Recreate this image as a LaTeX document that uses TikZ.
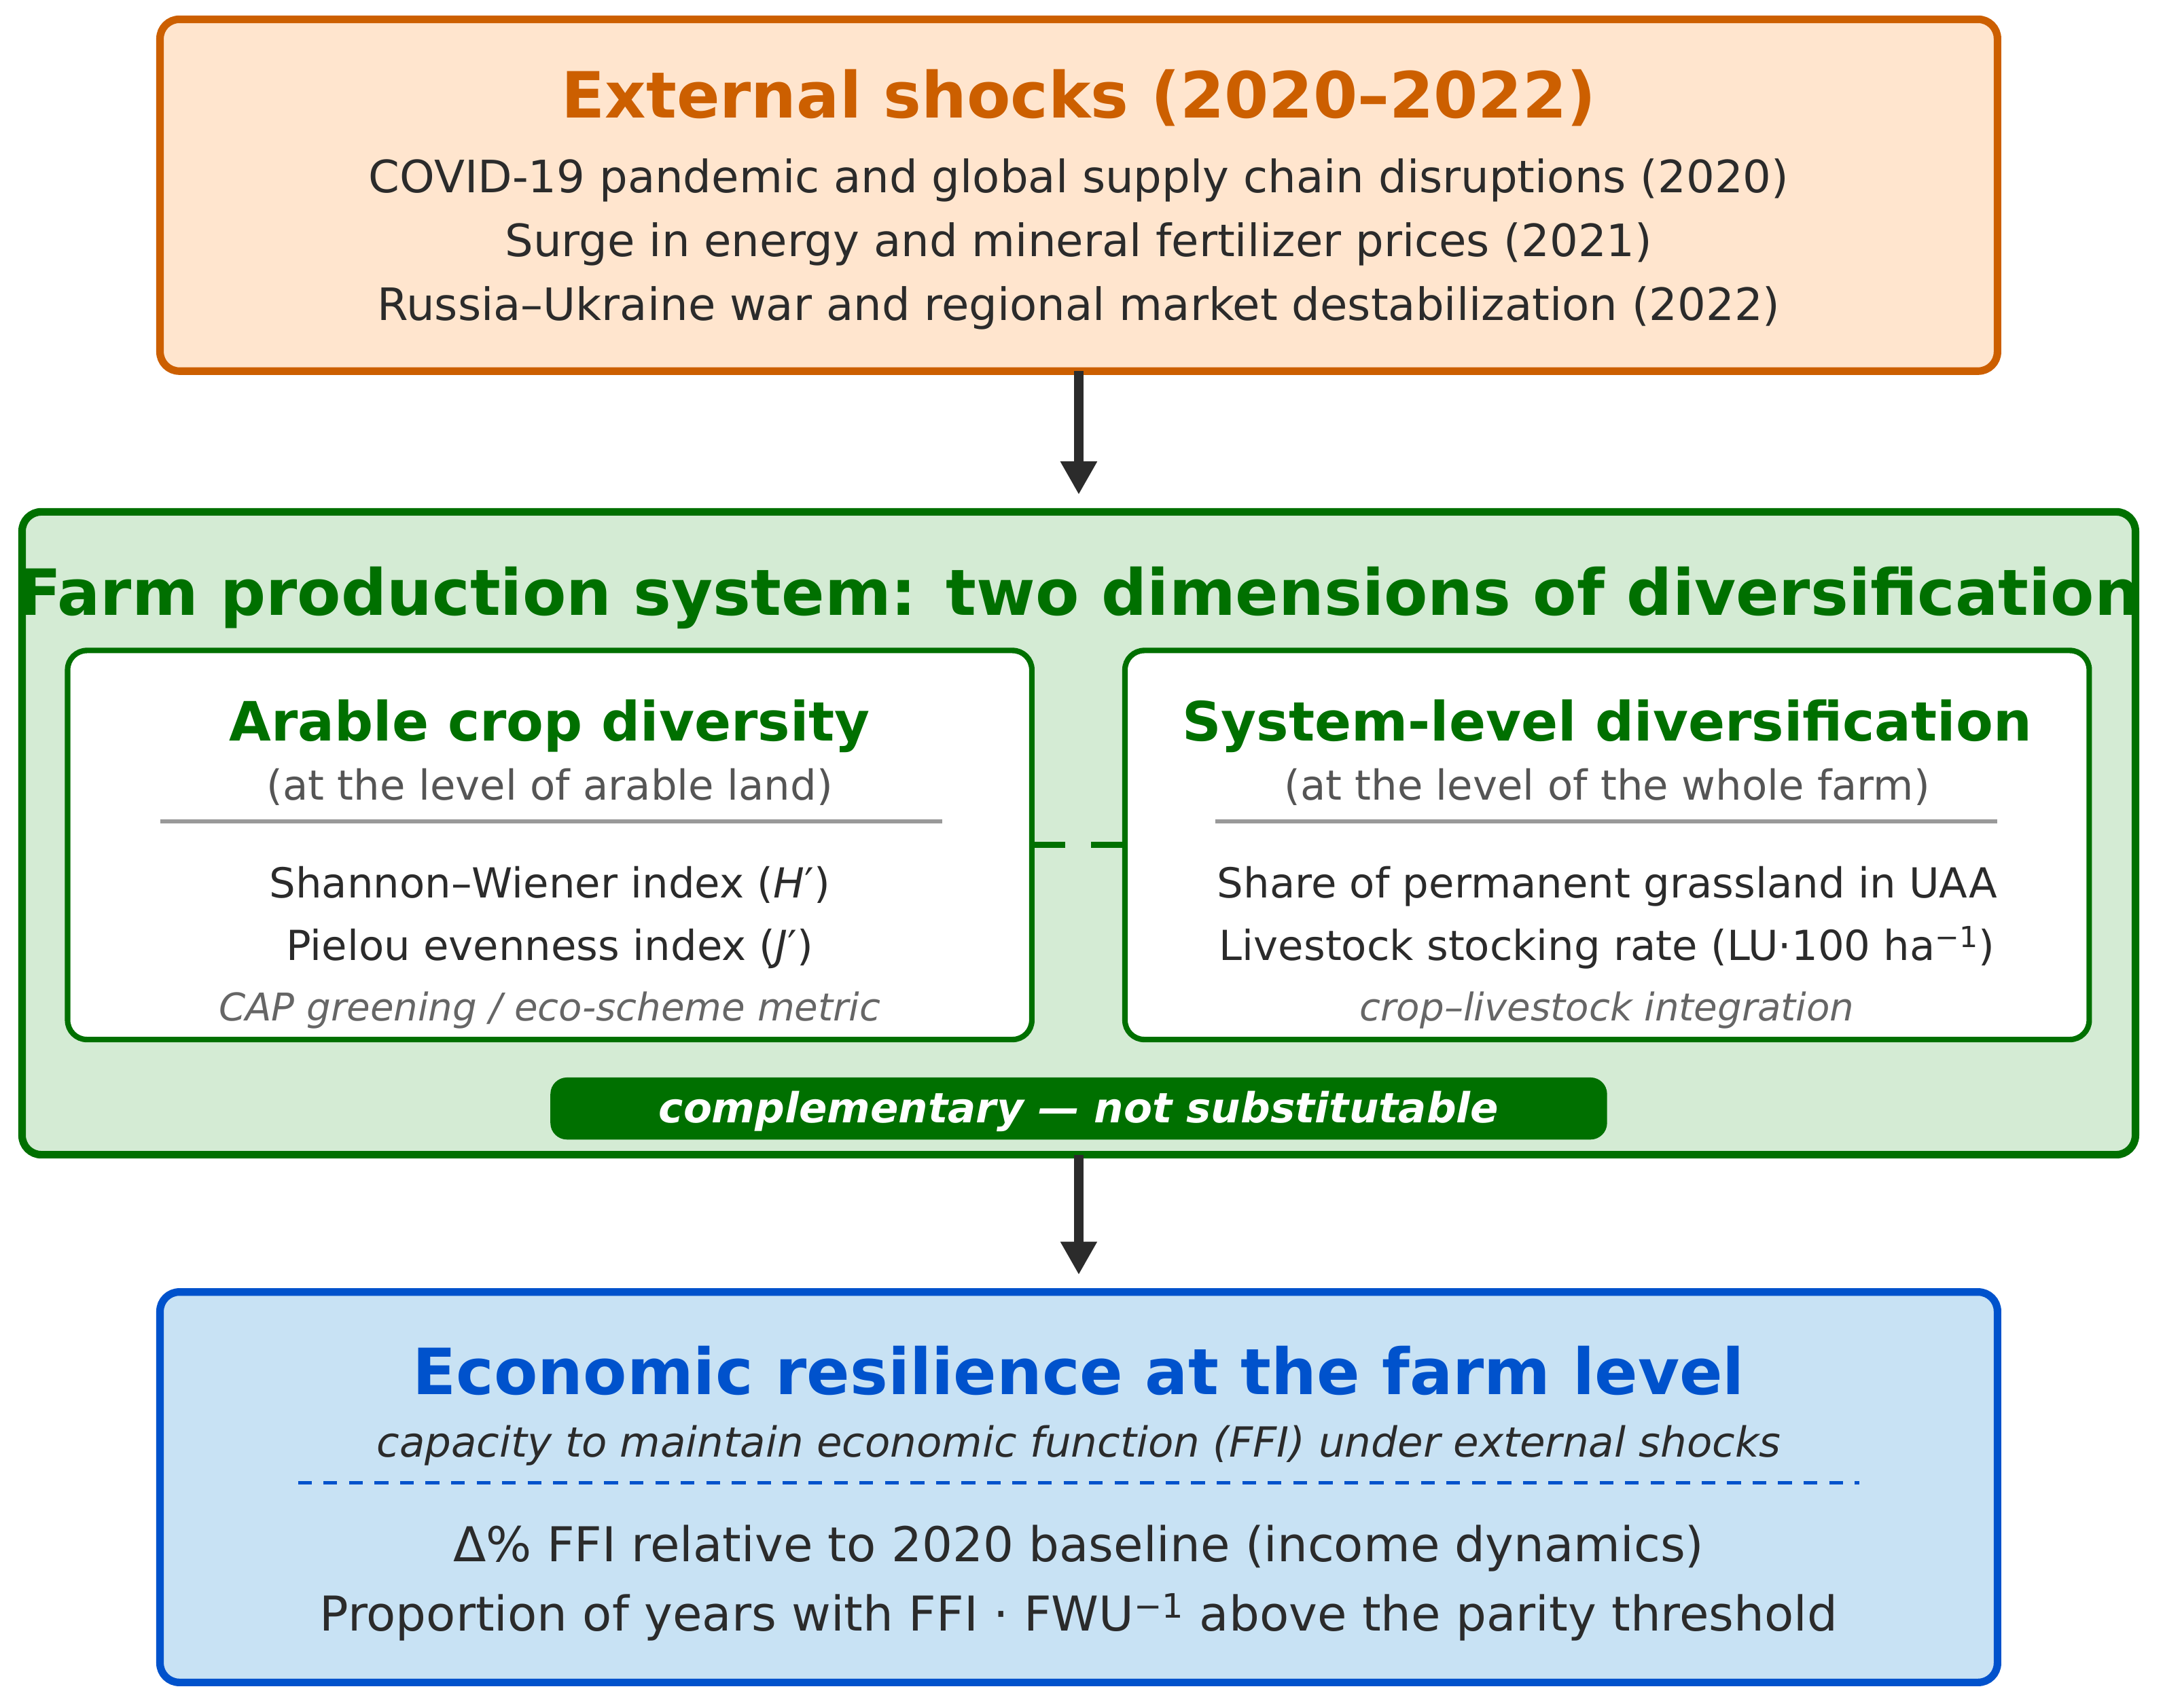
\documentclass[tikz,border=0pt]{standalone}
\usepackage{fontspec}
\setmainfont{DejaVu Sans}
\usetikzlibrary{arrows.meta}
\definecolor{shockline}{HTML}{CC5F00}
\definecolor{shockfill}{HTML}{FFE5CE}
\definecolor{farmline}{HTML}{007000}
\definecolor{farmfill}{HTML}{D4EBD4}
\definecolor{resline}{HTML}{0052CC}
\definecolor{resfill}{HTML}{C8E2F4}
\definecolor{ink}{HTML}{2B2B2B}
\definecolor{subgray}{HTML}{555555}
\definecolor{notegray}{HTML}{666666}
\definecolor{rulegray}{HTML}{999999}
\newcommand{\fs}[1]{\fontsize{#1}{1.2\dimexpr#1\relax}\selectfont}
\begin{document}
\begin{tikzpicture}[x=1pt,y=1pt,
   every node/.style={inner sep=0pt,outer sep=0pt,anchor=base,text=ink},
   bigbox/.style={anchor=center,rounded corners=14pt,line width=5.5pt},
   smallbox/.style={anchor=center,rounded corners=14pt,line width=4pt,draw=farmline,fill=white,
     minimum width=699pt,minimum height=282pt},
   bigtitle/.style={font=\fs{46.2pt}\bfseries},
   body/.style={font=\fs{32.35pt}},
   intitle/.style={font=\fs{39.3pt}\bfseries,text=farmline},
   insub/.style={font=\fs{30pt},text=subgray},
   inbody/.style={font=\fs{30pt}},
   innote/.style={font=\fs{27.7pt}\itshape,text=notegray},
   resbody/.style={font=\fs{34.8pt}},
   arr/.style={-{Triangle[width=25pt,length=24pt]},line width=6.5pt,draw=ink,shorten >=12.5pt}]
   \useasboundingbox (0,0) rectangle (1568,-1238);
   \node [bigbox,draw=shockline,fill=shockfill,minimum width=1332pt,minimum height=255pt] (shocks) at (782,-141.5) {};
   \node [bigtitle,text=shockline] (shockstitle) at (782,-85.4) {External shocks (2020–2022)};
   \node [body] (covid) at (782,-139.4) {COVID-19 pandemic and global supply chain disruptions (2020)};
   \node [body] (energy) at (782,-185.7) {Surge in energy and mineral fertilizer prices (2021)};
   \node [body] (war) at (782,-232.4) {Russia–Ukraine war and regional market destabilization (2022)};
   \node [bigbox,draw=farmline,fill=farmfill,minimum width=1532pt,minimum height=466pt] (farm) at (782,-604) {};
   \node [bigtitle,text=farmline] (farmtitle) at (782,-445.7) {Farm production system: two dimensions of diversification};
   \node [smallbox] (arable) at (398.5,-612.5) {};
   \node [smallbox] (system) at (1165,-612.5) {};
   \draw [farmline,line width=4.5pt,dash pattern=on 24pt off 19pt] (arable.east) -- (system.west);
   \node [intitle] (artitle) at (398.5,-537) {Arable crop diversity};
   \node [insub] (arsub) at (398.5,-580) {(at the level of arable land)};
   \draw [rulegray,line width=2.5pt] (116,-595.4) coordinate (arl) -- (683,-595.4) coordinate (arr);
   \node [inbody] (shannon) at (398.5,-651) {Shannon–Wiener index (\textit{H}′)};
   \node [inbody] (pielou) at (398.5,-696) {Pielou evenness index (\textit{J}′)};
   \node [innote] (cap) at (398.5,-739.7) {CAP greening / eco-scheme metric};
   \node [intitle] (sytitle) at (1165,-537) {System-level diversification};
   \node [insub] (sysub) at (1165,-580) {(at the level of the whole farm)};
   \draw [rulegray,line width=2.5pt] (881,-595.4) coordinate (syl) -- (1448,-595.4) coordinate (syr);
   \node [inbody] (grass) at (1165,-651) {Share of permanent grassland in UAA};
   \node [inbody] (stock) at (1165,-696) {Livestock stocking rate (LU·100 ha\textsuperscript{−1})};
   \node [innote] (integ) at (1165,-739.7) {crop–livestock integration};
   \node [anchor=center,fill=farmline,rounded corners=12pt,minimum width=766pt,minimum height=45pt] (pill) at (782,-803.5) {};
   \node [font=\fs{30.1pt}\bfseries\itshape,text=white] (pilltext) at (782,-814) {complementary — not substitutable};
   \node [bigbox,draw=resline,fill=resfill,minimum width=1332pt,minimum height=283pt] (res) at (782,-1078) {};
   \node [bigtitle,text=resline] (restitle) at (782,-1011) {Economic resilience at the farm level};
   \node [font=\fs{30.1pt}\itshape] (ressub) at (782,-1056) {capacity to maintain economic function (FFI) under external shocks};
   \draw [resline,line width=2.5pt,dash pattern=on 10pt off 8.5pt] (216,-1075) coordinate (dl) -- (1348,-1075) coordinate (dr);
   \node [resbody] (delta) at (782,-1132) {Δ\% FFI relative to 2020 baseline (income dynamics)};
   \node [resbody] (parity) at (782,-1182) {Proportion of years with FFI · FWU\textsuperscript{−1} above the parity threshold};
   \draw [arr] (shocks.south) -- (farm.north);
   \draw [arr] (farm.south) -- (res.north);
  \end{tikzpicture}
\end{document}
